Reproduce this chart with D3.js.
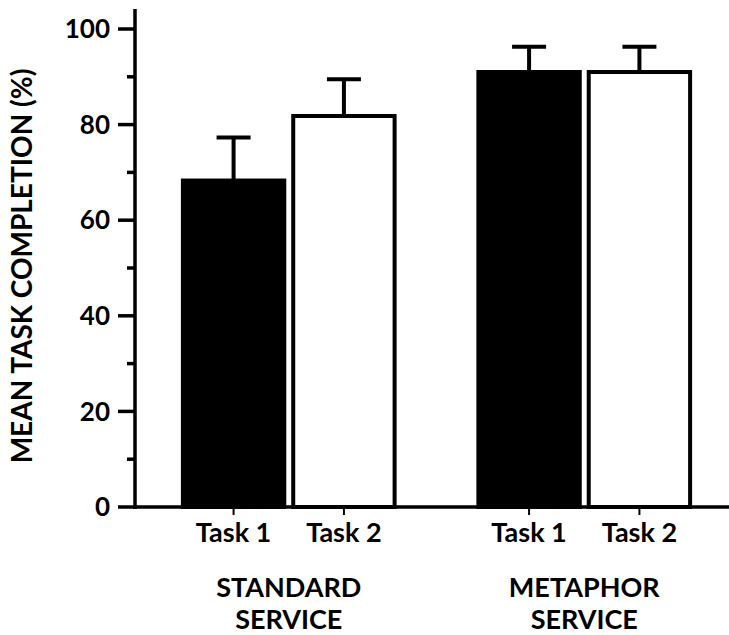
<!DOCTYPE html>
<html>
<head>
<meta charset="utf-8">
<script src="https://cdn.jsdelivr.net/npm/d3@7"></script>
<style>
    body { margin: 0; background: #fff; }
    svg text { font-family: Lato, "Open Sans", sans-serif; fill: #000; }
</style>
</head>
<body>
<svg width="729" height="635"></svg>
<script>
// Data
let groups = ["STANDARD SERVICE", "METAPHOR SERVICE"];
let tasks = ["Task 1", "Task 2"];
let means = [[68.3, 81.8], [91.0, 91.0]];
let errors = [[9.0, 7.7], [5.3, 5.3]];
let yTicks = [0, 20, 40, 60, 80, 100];
let yMinorTicks = [10, 30, 50, 70, 90];
let fills = { "Task 1": "#000", "Task 2": "#fff" };

let svg = d3.select("svg");
let axisX = 135;
let baseY = 507;

let y = d3.scaleLinear().domain([0, 100]).range([baseY, 29]);
let x0 = d3.scaleBand().domain(groups).range([141, 732]).paddingInner(0.27).paddingOuter(0.135);
let x1 = d3.scaleBand().domain(tasks).range([0, x0.bandwidth()]).paddingInner(0.045);

let rows = [];
groups.forEach((g, i) => {
    tasks.forEach((t, j) => {
        rows.push({ group: g, task: t, value: means[i][j], err: errors[i][j] });
    });
});

// error bars (drawn first so bar top covers the stem end)
let errG = svg.append("g").attr("class", "errors");
rows.forEach(d => {
    let cx = x0(d.group) + x1(d.task) + x1.bandwidth() / 2;
    errG.append("line")
        .attr("x1", cx).attr("x2", cx)
        .attr("y1", y(d.value)).attr("y2", y(d.value + d.err))
        .attr("stroke", "#000").attr("stroke-width", 4);
    errG.append("line")
        .attr("x1", cx - 17).attr("x2", cx + 17)
        .attr("y1", y(d.value + d.err)).attr("y2", y(d.value + d.err))
        .attr("stroke", "#000").attr("stroke-width", 4);
});

// bars
svg.append("g").attr("class", "bars")
    .selectAll("rect")
    .data(rows)
    .join("rect")
    .attr("x", d => x0(d.group) + x1(d.task) + 2)
    .attr("width", x1.bandwidth() - 4)
    .attr("y", d => y(d.value))
    .attr("height", d => baseY - y(d.value))
    .attr("fill", d => fills[d.task])
    .attr("stroke", "#000")
    .attr("stroke-width", 4);

// y axis
let yAxis = svg.append("g").attr("class", "yaxis");
yAxis.append("line")
    .attr("x1", axisX).attr("x2", axisX)
    .attr("y1", 9).attr("y2", baseY + 2)
    .attr("stroke", "#000").attr("stroke-width", 3.5);
yTicks.forEach(t => {
    yAxis.append("line")
        .attr("x1", axisX - 17).attr("x2", axisX)
        .attr("y1", y(t)).attr("y2", y(t))
        .attr("stroke", "#000").attr("stroke-width", 3.5);
    yAxis.append("text")
        .attr("x", 110).attr("y", y(t))
        .attr("dy", "0.35em")
        .attr("text-anchor", "end")
        .attr("font-size", 26).attr("font-weight", "bold")
        .text(t);
});
yMinorTicks.forEach(t => {
    yAxis.append("line")
        .attr("x1", axisX - 8).attr("x2", axisX)
        .attr("y1", y(t)).attr("y2", y(t))
        .attr("stroke", "#000").attr("stroke-width", 3.5);
});
svg.append("text")
    .attr("transform", "translate(32,266) rotate(-90)")
    .attr("text-anchor", "middle")
    .attr("font-size", 28).attr("font-weight", "bold")
    .text("MEAN TASK COMPLETION (%)");

// x axis
let xAxis = svg.append("g").attr("class", "xaxis");
xAxis.append("line")
    .attr("x1", axisX - 2).attr("x2", 729)
    .attr("y1", baseY).attr("y2", baseY)
    .attr("stroke", "#000").attr("stroke-width", 3.5);
rows.forEach(d => {
    let cx = x0(d.group) + x1(d.task) + x1.bandwidth() / 2;
    xAxis.append("line")
        .attr("x1", cx).attr("x2", cx)
        .attr("y1", baseY).attr("y2", baseY + 8)
        .attr("stroke", "#000").attr("stroke-width", 2);
    xAxis.append("text")
        .attr("x", cx).attr("y", 542)
        .attr("text-anchor", "middle")
        .attr("font-size", 27).attr("font-weight", "bold")
        .text(d.task);
});
groups.forEach(g => {
    let words = g.split(" ");
    let label = xAxis.append("text")
        .attr("x", x0(g) + x0.bandwidth() / 2)
        .attr("y", 597)
        .attr("text-anchor", "middle")
        .attr("font-size", 27).attr("font-weight", "bold");
    words.forEach((w, i) => {
        label.append("tspan")
            .attr("x", x0(g) + x0.bandwidth() / 2)
            .attr("dy", i == 0 ? 0 : 32)
            .text(w);
    });
});
</script>
</body>
</html>
